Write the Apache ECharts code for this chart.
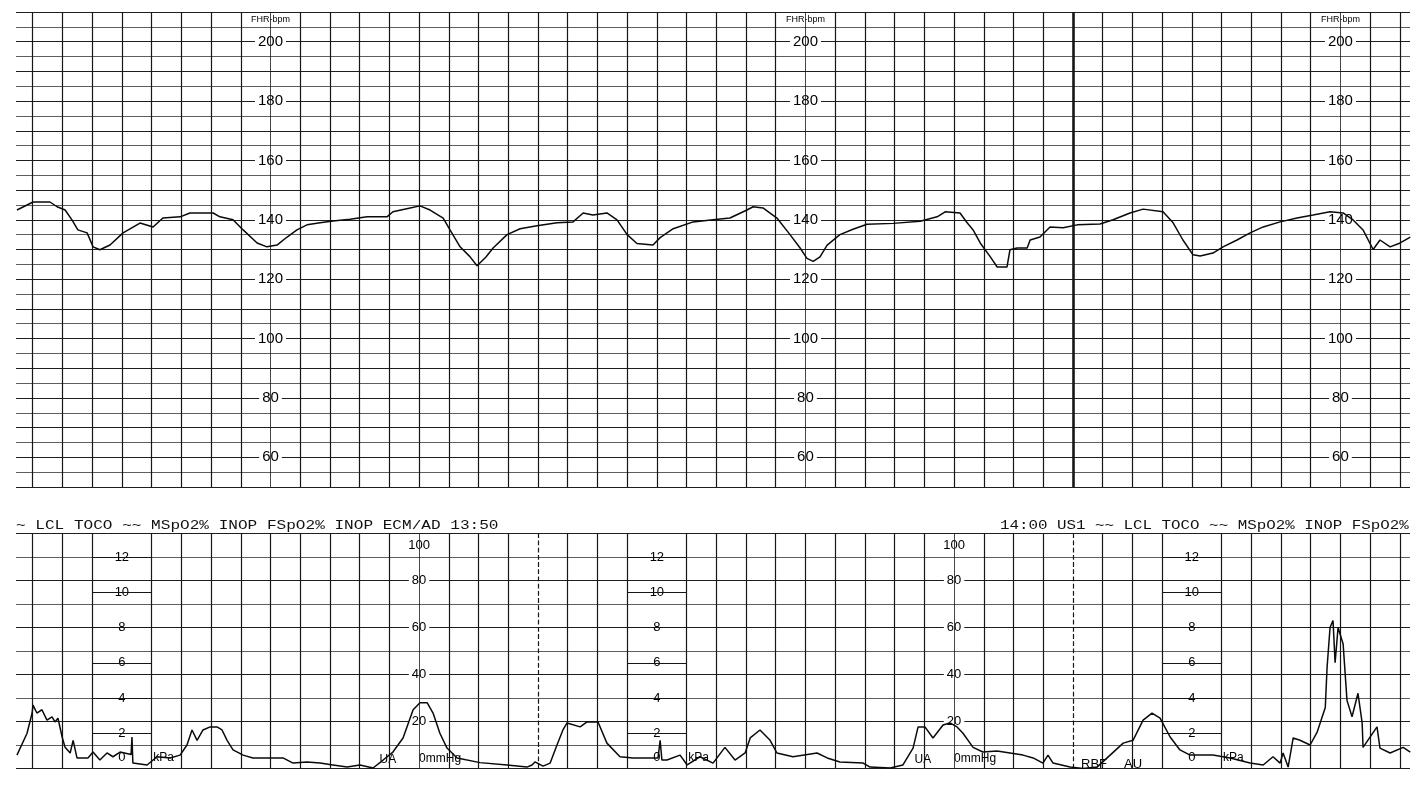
<!DOCTYPE html>
<html><head><meta charset="utf-8">
<script src="https://cdn.jsdelivr.net/npm/echarts@6/dist/echarts.min.js"></script>
<style>html,body{margin:0;padding:0;background:#fff}#chart{width:1413px;height:785px}</style>
</head><body><div id="chart"></div>
<script>
// ---- time axis in chart-paper squares (one vertical grid line per square) ----
const X_MIN = -0.562, X_MAX = 46.34;

// ---- FHR trace (bpm) ----
const fhrT = [
  -0.53,-0.19,0.01,0.58,0.82,1.09,1.32,1.52,1.83,2.03,
  2.26,2.60,3.04,3.61,4.05,4.38,4.96,5.29,6.07,6.30,
  6.74,7.08,7.55,7.88,8.22,8.56,8.89,9.23,9.67,10.10,
  10.68,11.25,11.92,12.12,12.70,13.03,13.37,13.81,14.04,14.38,
  14.71,14.95,15.25,15.49,15.96,16.40,16.97,17.64,18.18,18.52,
  18.85,19.32,19.66,20.00,20.33,20.87,21.11,21.55,22.22,22.89,
  23.46,24.03,24.24,24.57,25.04,25.48,25.82,26.05,26.26,26.49,
  26.73,27.16,27.60,28.07,28.95,29.86,30.43,30.70,31.20,31.44,
  31.64,31.88,32.22,32.45,32.78,32.88,33.12,33.46,33.56,33.89,
  34.23,34.67,35.14,35.91,36.35,36.92,37.36,38.03,38.37,38.70,
  39.04,39.28,39.71,40.05,40.52,40.96,41.40,41.97,42.54,43.08,
  43.65,44.09,44.42,44.76,45.10,45.33,45.67,46.01,46.35
];
const fhrBpm = [
  143.3,145,146,146,144.4,143.3,140,136.6,135.6,130.9,
  129.9,131.5,135.6,138.9,137.6,140.6,141,142.3,142.3,141,
  140,136.6,132.2,130.9,131.5,134.2,136.6,138.3,139,139.6,
  140.2,141,141,142.7,144,144.7,143.3,140.6,136.6,130.9,
  127.6,124.5,127.5,130.5,135,137,138,139,139.3,142.3,
  141.6,142.3,140,135,132,131.5,134,137,139.3,140,
  140.6,143.3,144.4,144,140.6,135,130.5,127,126,127.5,
  131.5,135,136.8,138.5,138.8,139.5,141,142.7,142.3,139,
  136.6,132.2,127.5,124.1,124.1,129.9,130.5,130.5,133.2,134.2,
  137.6,137.3,138.3,138.6,140,142.3,143.6,142.7,139,133.2,
  128.2,127.8,128.8,130.9,133.2,135.6,137.6,139.3,140.6,141.6,
  142.7,142.3,140,136.6,130,133.2,130.9,132.2,134.2
];

// ---- Uterine activity trace (mmHg) ----
const uaT = [
  -0.53,-0.19,-0.02,0.01,0.14,0.31,0.48,0.65,0.75,0.85,
  0.99,1.09,1.26,1.36,1.49,1.86,2.03,2.26,2.50,2.70,
  2.94,3.31,3.34,3.37,3.85,4.18,4.62,4.96,5.19,5.36,
  5.53,5.73,5.97,6.20,6.37,6.54,6.74,7.08,7.41,8.42,
  8.76,9.23,9.67,10.10,10.58,11.01,11.45,11.79,12.12,12.46,
  12.80,13.03,13.27,13.47,13.70,13.94,14.28,15.05,15.96,16.63,
  16.80,16.90,17.17,17.41,17.64,17.84,17.98,18.42,18.65,19.02,
  19.32,19.76,20.20,20.87,21.04,21.11,21.17,21.34,21.78,22.02,
  22.45,22.89,23.29,23.63,23.97,24.14,24.47,24.81,25.04,25.58,
  26.39,26.73,27.16,27.94,28.17,28.85,29.28,29.62,29.79,30.02,
  30.29,30.63,30.86,31.10,31.30,31.64,31.97,32.45,32.88,33.32,
  33.66,33.99,34.16,34.33,34.90,35.34,35.81,36.25,36.69,37.02,
  37.36,37.66,37.93,38.27,38.60,38.94,39.71,40.29,40.96,41.40,
  41.73,41.97,42.07,42.24,42.41,42.64,42.98,43.22,43.49,43.55,
  43.65,43.75,43.82,43.92,44.09,44.22,44.39,44.59,44.73,44.76,
  45.23,45.33,45.67,46.11,46.35
];
const uaMmHg = [
  5.7,15,23.6,27,23.6,25,20.6,22,19.8,21.4,
  13.4,9,6.6,12,4.5,4.5,7,3.6,6.6,5,
  7,6,13.4,2.3,1.5,5,4.5,5.7,10,16.4,
  12,16.4,17.7,17.7,16.4,12,7.9,5.7,4.5,4.5,
  2.3,2.8,2.3,1.5,0.6,1.5,0.2,3.6,7,13,
  25,28,28,23.6,15,8.7,4.5,2.5,1.5,0.6,
  1.5,2.8,1,2.3,10,16.4,19.4,17.7,19.8,19.8,
  10.8,5,4.5,4.5,4.5,12,3.6,3.6,5.7,1.5,
  5,2.3,9,3.6,6.6,13,16.4,12,6.6,5,
  6.6,4.5,2.8,2.3,0.6,0.2,1.5,8.7,17.7,17.7,
  13,18.5,19.4,17.7,15,9,7,7.4,6.6,5.7,
  4.5,2.3,5.7,2.3,0.6,0,0.6,5.7,10.8,12,
  20.6,23.6,21.4,13.4,7.9,5.7,5.7,4.5,2.3,1.5,
  5,2.3,6.6,0.6,13,12,10,15.6,26,43,
  60,63,45,60,53,29,22,32,19.4,9,
  17.7,8.7,6.6,9,7
];

// ---- scale labels ----
const fhrTicks = [200,180,160,140,120,100,80,60];
const uaTicks = [100,80,60,40,20];
const kpaTicks = [12,10,8,6,4,2,0];
const KPA_TO_MMHG = 7.5;
const fhrLabelCols = [8,26,44];
const uaLabelCols = [13,31];
const kpaLabelCols = [3,21,39];
const dashedCols = [17,35];
const timeMarkCol = 35;
const headerLeft = '~ LCL TOCO ~~ MSpO2% INOP FSpO2% INOP ECM/AD 13:50';
const headerRight = '14:00 US1 ~~ LCL TOCO ~~ MSpO2% INOP FSpO2%';

const GRID_COLS = []; for (let c = 0; c <= 46; c++) GRID_COLS.push(c);
const INK = '#161616';
const FONT = 'Liberation Sans';

const chart = echarts.init(document.getElementById('chart'), null, {renderer: 'canvas'});

const xAxisBase = {type:'value', min:X_MIN, max:X_MAX, axisLine:{show:false}, axisTick:{show:false}, axisLabel:{show:false}, splitLine:{show:false}};
const markBase = {silent:true, symbol:['none','none'], label:{show:false}, emphasis:{disabled:true}, animation:false};

const topV = GRID_COLS.map(c => ({xAxis:c, lineStyle:{color:INK, type:'solid',
  width: c === timeMarkCol ? 2.6 : (fhrLabelCols.includes(c) ? 0.8 : 1.2)}}));
const botV = GRID_COLS.filter(c => !kpaLabelCols.includes(c)).map(c => ({xAxis:c, lineStyle:{color:INK,
  type: dashedCols.includes(c) ? 'dashed' : 'solid', width: uaLabelCols.includes(c) ? 0.8 : 1.2}}));
const kpaSeg = kpaLabelCols.flatMap(c => kpaTicks.filter(k => k > 0).map(k =>
  [{coord:[c-1, k*KPA_TO_MMHG], lineStyle:{color:INK, width:1.2, type:'solid'}}, {coord:[c+1, k*KPA_TO_MMHG]}]));

const labelStyle = {show:true, position:'inside', color:'#000', opacity:1, fontFamily:FONT, backgroundColor:'#fff',
  formatter: p => p.data.text};

const topLabels = fhrLabelCols.flatMap(c => fhrTicks.map(v => ({value:[c, v], text:String(v)})))
  .concat(fhrLabelCols.map(c => ({value:[c, 207.4], text:'FHR-bpm', label:{fontSize:9, padding:[0,1]}})));

const botLabels = [];
uaLabelCols.forEach(c => {
  uaTicks.forEach(v => botLabels.push({value:[c, v], text:String(v), label: v === 100 ? {offset:[0,12], backgroundColor:'transparent'} : {}}));
  botLabels.push({value:[c, 0], text:'0mmHg', label:{align:'left', offset:[-3,-10], fontSize:12, backgroundColor:'transparent'}});
  botLabels.push({value:[c-1.05, 0], text:'UA', label:{offset:[0,-9], fontSize:12, backgroundColor:'transparent'}});
});
kpaLabelCols.forEach(c => {
  kpaTicks.forEach(k => botLabels.push({value:[c, k*KPA_TO_MMHG], text:String(k),
    label: k === 0 ? {offset:[0,-11], backgroundColor:'transparent'} : {}}));
  botLabels.push({value:[c+1.4, 0], text:'kPa', label:{offset:[0,-11], fontSize:12, backgroundColor:'transparent'}});
});
botLabels.push({value:[35.71, 0], text:'RBF', label:{offset:[0,-4], fontSize:13, backgroundColor:'transparent'}});
botLabels.push({value:[37.02, 0], text:'AU', label:{offset:[0,-4], fontSize:13, backgroundColor:'transparent'}});

const option = {
  animation:false,
  backgroundColor:'#fff',
  grid:[
    {left:16, top:12, width:1394, height:475},
    {left:16, top:533.5, width:1394, height:235}
  ],
  xAxis:[Object.assign({gridIndex:0}, xAxisBase), Object.assign({gridIndex:1}, xAxisBase)],
  yAxis:[
    {gridIndex:0, type:'value', min:50, max:210, interval:5, axisLine:{show:false}, axisTick:{show:false}, axisLabel:{show:false},
     splitLine:{show:true, lineStyle:{color:['#1e1e1e','#5e5e5e'], width:1.2}}},
    {gridIndex:1, type:'value', min:0, max:100, interval:10, axisLine:{show:false}, axisTick:{show:false}, axisLabel:{show:false},
     splitLine:{show:true, lineStyle:{color:['#1e1e1e','#5e5e5e'], width:1.2}}}
  ],
  series:[
    {type:'line', xAxisIndex:0, yAxisIndex:0, data:[], z:1, markLine:Object.assign({data:topV}, markBase)},
    {type:'line', xAxisIndex:1, yAxisIndex:1, data:[], z:1, markLine:Object.assign({data:botV.concat(kpaSeg)}, markBase)},
    {type:'scatter', xAxisIndex:0, yAxisIndex:0, z:2, silent:true, symbolSize:0, itemStyle:{color:'#000', opacity:1},
     label:Object.assign({}, labelStyle, {fontSize:15, padding:[1,3]}), data:topLabels},
    {type:'scatter', xAxisIndex:1, yAxisIndex:1, z:2, silent:true, symbolSize:0, itemStyle:{color:'#000', opacity:1},
     label:Object.assign({}, labelStyle, {fontSize:13, padding:[0,3]}), data:botLabels},
    {name:'FHR', type:'line', xAxisIndex:0, yAxisIndex:0, z:5, showSymbol:false, silent:true,
     lineStyle:{color:'#0a0a0a', width:1.5}, data:fhrT.map((t,i) => [t, fhrBpm[i]])},
    {name:'UA', type:'line', xAxisIndex:1, yAxisIndex:1, z:5, showSymbol:false, silent:true,
     lineStyle:{color:'#0a0a0a', width:1.5}, data:uaT.map((t,i) => [t, uaMmHg[i]])}
  ],
  graphic:[
    {type:'text', x:16, y:532, scaleX:1.34, z:10, style:{text:headerLeft, fontFamily:'Liberation Mono', fontSize:12,
      fill:'#111', verticalAlign:'bottom', textVerticalAlign:'bottom'}},
    {type:'text', x:1000, y:532, scaleX:1.32, z:10, style:{text:headerRight, fontFamily:'Liberation Mono', fontSize:12,
      fill:'#111', verticalAlign:'bottom', textVerticalAlign:'bottom'}}
  ]
};
chart.setOption(option);
</script></body></html>
